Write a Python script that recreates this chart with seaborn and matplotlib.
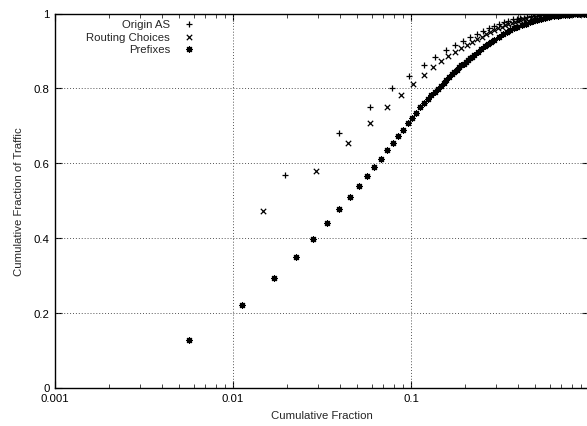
import matplotlib
matplotlib.use("Agg")
import matplotlib.pyplot as plt
import seaborn as sns
import pandas as pd
from matplotlib.ticker import FixedLocator, LogLocator, NullFormatter

# ---- data ----
origin_x = [0.0196, 0.0392, 0.0588, 0.0784, 0.098, 0.1176, 0.1372, 0.1568, 0.1764, 0.196,
            0.2156, 0.2352, 0.2548, 0.2744, 0.294, 0.3136, 0.3332, 0.3528, 0.3724, 0.392,
            0.4116, 0.4312, 0.4508, 0.4704, 0.49, 0.5096, 0.5292, 0.5488, 0.588, 0.6468,
            0.7056, 0.784, 0.8624, 0.9408, 1.0]
origin_y = [0.569, 0.681, 0.750, 0.800, 0.834, 0.862, 0.884, 0.903, 0.917, 0.927,
            0.937, 0.946, 0.953, 0.960, 0.967, 0.973, 0.977, 0.981, 0.984, 0.986,
            0.988, 0.989, 0.9905, 0.992, 0.993, 0.994, 0.995, 0.9958, 0.997, 0.998,
            0.9985, 0.999, 0.9994, 0.9997, 1.0]

routing_x = [0.0147, 0.0294, 0.0441, 0.0588, 0.0735, 0.0882, 0.1029, 0.1176, 0.1323, 0.147,
             0.1617, 0.1764, 0.1911, 0.2058, 0.2205, 0.2352, 0.2499, 0.2646, 0.2793, 0.294,
             0.3087, 0.3234, 0.3381, 0.3528, 0.3675, 0.3822, 0.3969, 0.4116, 0.4263, 0.441,
             0.4704, 0.4998, 0.5292, 0.5586, 0.588, 0.6321, 0.6762, 0.735, 0.7938, 0.8526,
             0.9114, 0.9555, 1.0]
routing_y = [0.471, 0.580, 0.654, 0.708, 0.751, 0.783, 0.812, 0.836, 0.856, 0.872,
             0.887, 0.897, 0.907, 0.917, 0.924, 0.931, 0.938, 0.945, 0.951, 0.956,
             0.961, 0.965, 0.969, 0.972, 0.975, 0.978, 0.980, 0.982, 0.984, 0.986,
             0.988, 0.990, 0.992, 0.993, 0.994, 0.995, 0.996, 0.997, 0.998, 0.9985,
             0.999, 0.9995, 1.0]

prefix_x = [0.00565, 0.0113, 0.01695, 0.0226, 0.02825, 0.0339, 0.03955, 0.0452, 0.05085, 0.0565,
            0.06215, 0.0678, 0.07345, 0.0791, 0.08475, 0.0904, 0.09605, 0.1017, 0.10735, 0.113,
            0.11865, 0.1243, 0.12995, 0.1356, 0.14125, 0.1469, 0.15255, 0.1582, 0.16385, 0.1695,
            0.17515, 0.1808, 0.18645, 0.1921, 0.19775, 0.2034, 0.20905, 0.2147, 0.22035, 0.226,
            0.2373, 0.2486, 0.2599, 0.2712, 0.2825, 0.2938, 0.31075, 0.3277, 0.34465, 0.3616,
            0.37855, 0.3955, 0.4181, 0.4407, 0.4633, 0.4859, 0.5085, 0.53675, 0.565, 0.5989,
            0.6328, 0.6667, 0.7006, 0.7345, 0.77405, 0.8136, 0.85315, 0.8927, 0.93225, 0.96615,
            1.0]
prefix_y = [0.128, 0.220, 0.292, 0.350, 0.398, 0.439, 0.477, 0.509, 0.540, 0.566,
            0.590, 0.612, 0.634, 0.654, 0.673, 0.689, 0.706, 0.720, 0.735, 0.749,
            0.761, 0.771, 0.781, 0.790, 0.799, 0.807, 0.815, 0.823, 0.830, 0.837,
            0.844, 0.850, 0.856, 0.861, 0.866, 0.871, 0.876, 0.881, 0.885, 0.889,
            0.897, 0.905, 0.912, 0.918, 0.924, 0.930, 0.937, 0.944, 0.950, 0.955,
            0.960, 0.964, 0.969, 0.973, 0.977, 0.980, 0.983, 0.986, 0.988, 0.990,
            0.992, 0.994, 0.995, 0.996, 0.997, 0.998, 0.9985, 0.999, 0.9995, 0.9998,
            1.0]

series_names = ["Origin AS", "Routing Choices", "Prefixes"]
x_ticks = [0.001, 0.01, 0.1, 1]
x_tick_labels = ["0.001", "0.01", "0.1", "1"]
y_ticks = [0, 0.2, 0.4, 0.6, 0.8, 1]
y_tick_labels = ["0", "0.2", "0.4", "0.6", "0.8", "1"]

# ---- styling ----
sns.set_theme(style="white")
plt.rcParams["font.family"] = ["Liberation Sans", "DejaVu Sans"]
FS = 8.2
plt.rcParams["font.size"] = FS

fig = plt.figure(figsize=(5.87, 4.27), dpi=100)
W, H = 587, 427
left, right, top, bottom = 55, 589, 14.5, 388.5
ax = fig.add_axes([left / W, 1 - bottom / H, (right - left) / W, (bottom - top) / H])

frames = {
    "Origin AS": pd.DataFrame({"x": origin_x, "y": origin_y}),
    "Routing Choices": pd.DataFrame({"x": routing_x, "y": routing_y}),
    "Prefixes": pd.DataFrame({"x": prefix_x, "y": prefix_y}),
}
markers = {"Origin AS": "+", "Routing Choices": "x", "Prefixes": (8, 2, 0)}
sizes = {"Origin AS": 20, "Routing Choices": 15, "Prefixes": 18}

for name in series_names:
    sns.scatterplot(data=frames[name], x="x", y="y", ax=ax, marker=markers[name],
                    s=sizes[name], color="black", linewidth=0.9, label=name, zorder=3)

ax.set_xscale("log")
ax.set_xlim(0.001, 1)
ax.set_ylim(0, 1)

ax.xaxis.set_major_locator(FixedLocator(x_ticks))
ax.set_xticklabels(x_tick_labels)
ax.xaxis.set_minor_locator(LogLocator(base=10, subs=range(2, 10)))
ax.xaxis.set_minor_formatter(NullFormatter())
ax.set_yticks(y_ticks)
ax.set_yticklabels(y_tick_labels)

ax.tick_params(axis="both", which="major", direction="in", length=5, width=0.8,
               top=True, right=True, bottom=True, left=True, labelsize=FS,
               colors="black", pad=4)
ax.tick_params(axis="x", which="minor", direction="in", length=3, width=0.6,
               top=True, bottom=True)

for sp in ax.spines.values():
    sp.set_color("black")
    sp.set_linewidth(1.0)

ax.grid(False)
for xv in [0.01, 0.1]:
    ax.axvline(xv, color="#555555", lw=0.7, ls=(0, (1, 2)), zorder=1)
for yv in [0.2, 0.4, 0.6, 0.8]:
    ax.axhline(yv, color="#555555", lw=0.7, ls=(0, (1, 2)), zorder=1)

ax.set_xlabel("Cumulative Fraction", fontsize=FS, labelpad=5)
ax.set_ylabel("Cumulative Fraction of Traffic", fontsize=FS, labelpad=7)

leg = ax.legend(loc="upper left", bbox_to_anchor=(0.05, 0.997), frameon=False,
                markerfirst=False, handlelength=1.0, handletextpad=1.2,
                labelspacing=0.22, fontsize=FS, borderaxespad=0.0, scatterpoints=1)

fig.savefig("out.png", dpi=100)
